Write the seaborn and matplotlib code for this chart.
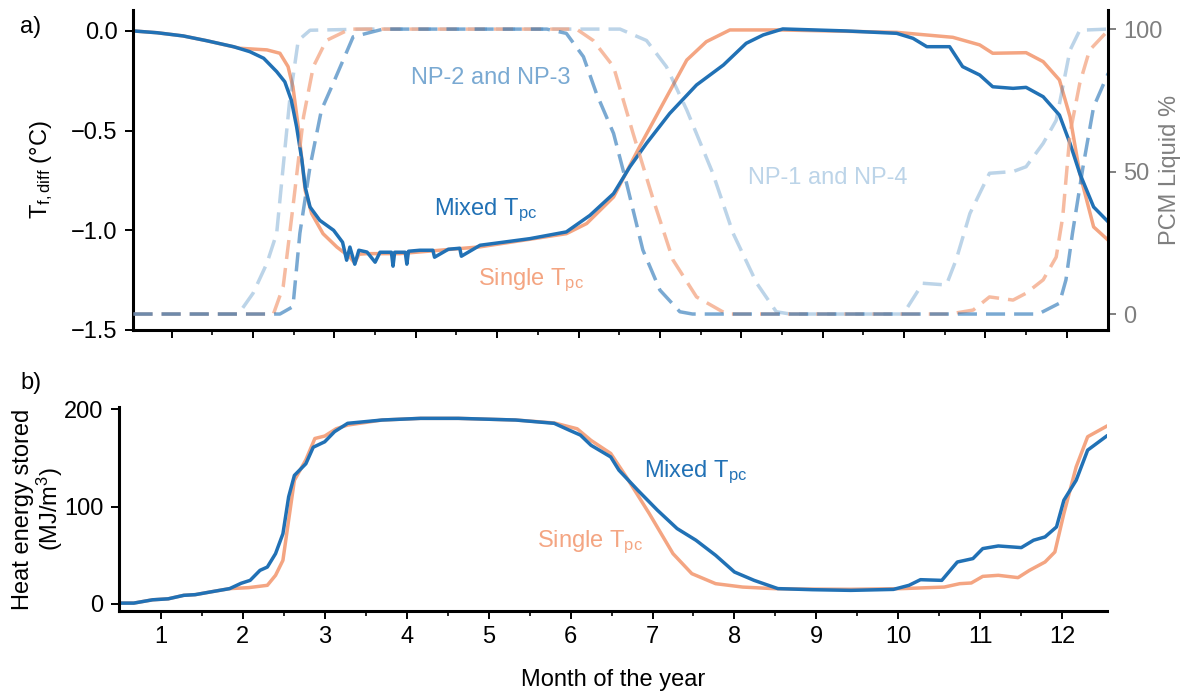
import numpy as np
import pandas as pd
import seaborn as sns
import matplotlib.pyplot as plt

# ---- data (x in months) ----
# a) temperature difference, mixed Tpc
mix_t_x = [0.53, 0.82, 1.14, 1.43, 1.76, 1.96, 2.13, 2.29, 2.39, 2.47, 2.535, 2.60, 2.64, 2.70,
           2.82, 2.99, 3.10, 3.15, 3.19, 3.25, 3.30, 3.40, 3.50, 3.56, 3.70, 3.72, 3.74, 3.87,
           3.89, 3.91, 4.05, 4.21, 4.23, 4.40, 4.54, 4.56, 4.79, 5.40, 5.85, 6.14, 6.43, 6.63,
           6.835, 7.12, 7.45, 7.78, 8.06, 8.27, 8.51, 9.29, 9.91, 10.11, 10.28, 10.56, 10.72,
           10.93, 11.09, 11.34, 11.50, 11.71, 11.91, 12.04, 12.16, 12.33, 12.51]
mix_t_y = [0.0, -0.009, -0.025, -0.049, -0.079, -0.104, -0.137, -0.204, -0.255, -0.347, -0.481,
           -0.648, -0.782, -0.883, -0.95, -1.0, -1.06, -1.15, -1.084, -1.17, -1.10, -1.109, -1.16,
           -1.11, -1.11, -1.18, -1.11, -1.11, -1.17, -1.105, -1.10, -1.10, -1.135, -1.095, -1.09,
           -1.13, -1.075, -1.042, -1.008, -0.925, -0.816, -0.682, -0.564, -0.414, -0.271, -0.171,
           -0.062, -0.02, 0.01, 0.0, -0.012, -0.037, -0.079, -0.079, -0.179, -0.221, -0.28,
           -0.288, -0.283, -0.33, -0.422, -0.564, -0.715, -0.883, -0.958]

# a) temperature difference, single Tpc
sgl_t_x = [0.53, 0.82, 1.14, 1.43, 1.84, 2.17, 2.33, 2.43, 2.49, 2.555, 2.60, 2.64, 2.72, 2.86,
           3.03, 3.19, 3.25, 3.30, 3.40, 3.80, 4.79, 5.85, 6.10, 6.43, 6.75, 7.04, 7.33, 7.57,
           7.86, 8.47, 9.91, 10.60, 10.93, 11.09, 11.50, 11.71, 11.91, 12.04, 12.16, 12.33, 12.51]
sgl_t_y = [0.0, -0.009, -0.025, -0.049, -0.087, -0.095, -0.112, -0.179, -0.28, -0.481, -0.648,
           -0.799, -0.916, -1.017, -1.084, -1.134, -1.165, -1.12, -1.117, -1.117, -1.083, -1.017,
           -0.966, -0.833, -0.581, -0.363, -0.146, -0.054, 0.005, 0.005, -0.007, -0.032, -0.07,
           -0.112, -0.109, -0.154, -0.246, -0.43, -0.715, -0.983, -1.05]

# a) PCM liquid fraction (%)
np14_x = [0.53, 1.82, 2.00, 2.17, 2.29, 2.37, 2.45, 2.555, 2.70, 3.40, 6.51, 6.835, 7.08, 7.33,
          7.65, 7.90, 8.19, 8.43, 8.60, 9.99, 10.23, 10.52, 10.64, 10.81, 11.05, 11.34, 11.50,
          11.71, 11.87, 12.04, 12.16, 12.51]
np14_y = [0, 0, 7.3, 17.8, 28.3, 51.7, 75, 96, 99.6, 100, 100, 96, 86.8, 71.6, 49.4, 28.3, 10.8,
          0.8, 0, 0, 10.8, 10.2, 19, 35.3, 49.4, 50, 51.7, 59.9, 68, 92.6, 99.6, 100]

sgl_liq_x = [0.53, 2.25, 2.37, 2.49, 2.62, 2.74, 2.90, 3.19, 5.975, 6.18, 6.43, 6.67, 6.92, 7.16,
             7.45, 7.82, 10.56, 10.85, 11.05, 11.34, 11.50, 11.71, 11.87, 11.95, 12.04, 12.16,
             12.28, 12.51]
sgl_liq_y = [0, 0, 9.6, 37.6, 69.2, 86.8, 96, 100, 100, 96, 86.8, 63.4, 40, 19, 6, 0, 0, 1.4, 6,
             4.9, 7.3, 12, 20, 34, 63.4, 81, 92.6, 99.6]

np23_x = [0.53, 2.33, 2.49, 2.575, 2.70, 2.84, 2.985, 3.23, 3.60, 5.61, 5.85, 6.06, 6.22, 6.43,
          6.59, 6.79, 7.00, 7.245, 7.40, 11.65, 11.91, 11.99, 12.07, 12.20, 12.33, 12.51]
np23_y = [0, 0, 2.6, 28.3, 51.7, 71.6, 81, 97.3, 100, 100, 98.5, 90.3, 77.4, 63.4, 45.9, 22.5,
          8.4, 0.8, 0, 0, 3.8, 12, 28.3, 51.7, 72.7, 84.5]

# b) heat energy stored (MJ/m3)
mix_e_x = [0.51, 0.67, 0.90, 1.09, 1.28, 1.42, 1.60, 1.84, 1.98, 2.09, 2.21, 2.30, 2.40, 2.49,
           2.56, 2.63, 2.77, 2.86, 3.00, 3.12, 3.28, 3.70, 4.17, 4.63, 5.33, 5.80, 5.98, 6.12,
           6.25, 6.49, 6.59, 6.82, 7.06, 7.30, 7.53, 7.77, 8.00, 8.24, 8.53, 8.95, 9.42, 9.94,
           10.13, 10.27, 10.53, 10.72, 10.91, 11.03, 11.22, 11.50, 11.65, 11.79, 11.93, 12.02,
           12.17, 12.31, 12.55]
mix_e_y = [0.6, 0.6, 4, 5, 8.6, 9.3, 12, 15.5, 21, 24, 34.3, 37.7, 51.5, 72, 110, 132, 144, 161,
           166.6, 177, 185.6, 189, 190.7, 190.7, 189, 185.6, 178.7, 173.5, 163, 151, 137.4, 116.8,
           96.2, 77.3, 65.3, 49.8, 32.6, 24, 15.5, 14.4, 13.7, 14.7, 18.9, 24.7, 24, 42.9, 46.4,
           56.7, 59.4, 57.7, 65.3, 68.7, 79, 106.5, 127, 158, 173]

sgl_e_x = [0.51, 0.67, 0.90, 1.09, 1.28, 1.42, 1.60, 1.84, 2.07, 2.30, 2.40, 2.49, 2.56, 2.63,
           2.77, 2.88, 3.00, 3.14, 3.28, 3.70, 4.17, 4.63, 5.33, 5.80, 6.08, 6.25, 6.49, 6.68,
           6.96, 7.25, 7.48, 7.77, 8.10, 8.48, 8.95, 9.42, 10.04, 10.56, 10.75, 10.89, 11.03,
           11.22, 11.46, 11.60, 11.79, 11.91, 12.02, 12.17, 12.31, 12.55]
sgl_e_y = [0.6, 0.6, 4, 5, 8.6, 9.3, 12, 15.5, 16.5, 18.9, 29.2, 44.6, 86, 127, 148, 170, 172.5,
           180, 183.8, 189, 190.7, 190.7, 189, 186, 180, 168, 154.6, 130.5, 92.8, 51.5, 30.9,
           20.6, 17.1, 15.5, 15, 14.8, 15.5, 17.1, 20.6, 21.3, 28.1, 29.2, 26.8, 34.3, 42.9, 53.2,
           92.8, 140.8, 171.8, 183]

months = list(range(1, 13))

blue = "#2171b5"
salmon = "#f4a582"
grey = "#7f7f7f"
fs = 17

sns.set_theme(style="ticks")
plt.rcParams["font.family"] = ["Liberation Sans", "DejaVu Sans"]
plt.rcParams.update({"font.size": fs, "axes.labelsize": fs, "xtick.labelsize": fs,
                     "ytick.labelsize": fs, "text.color": "black", "axes.labelcolor": "black",
                     "xtick.color": "black", "ytick.color": "black",
                     "axes.edgecolor": "black"})
plt.rcParams["mathtext.fontset"] = "custom"
plt.rcParams["mathtext.rm"] = "Liberation Sans"
plt.rcParams["mathtext.it"] = "Liberation Sans:italic"

fig = plt.figure(figsize=(11.89, 6.95), dpi=100)
ax1 = fig.add_axes([0.1119, 0.5252, 0.8202, 0.4604])
ax2 = ax1.twinx()
ax3 = fig.add_axes([0.1001, 0.1209, 0.8312, 0.2935])

lw = 2.5
dash = (5.5, 2.6)

# ---- panel a ----
sns.lineplot(x=mix_t_x, y=mix_t_y, ax=ax1, color=blue, lw=lw, sort=False, estimator=None)
sns.lineplot(x=sgl_t_x, y=sgl_t_y, ax=ax1, color=salmon, lw=lw, sort=False, estimator=None,
             zorder=1.9)
sns.lineplot(x=np14_x, y=np14_y, ax=ax2, color=blue, alpha=0.3, lw=lw, sort=False,
             estimator=None, linestyle=(0, dash))
sns.lineplot(x=sgl_liq_x, y=sgl_liq_y, ax=ax2, color=salmon, alpha=0.75, lw=lw, sort=False,
             estimator=None, linestyle=(0, dash))
sns.lineplot(x=np23_x, y=np23_y, ax=ax2, color=blue, alpha=0.6, lw=lw, sort=False,
             estimator=None, linestyle=(0, dash))

ax1.set_xlim(0.525, 12.51)
ax1.set_ylim(-1.5, 0.105)
ax2.set_ylim(-5.6, 106.7)
ax1.set_yticks([0.0, -0.5, -1.0, -1.5])
ax1.set_yticklabels(["0.0", "\u22120.5", "\u22121.0", "\u22121.5"])
ax2.set_yticks([0, 50, 100])
ax1.set_xticks(months)
ax1.set_xticks(np.arange(1.5, 12, 1.0), minor=True)
ax1.tick_params(axis="x", labelbottom=False)
ax1.set_ylabel("T$_{\\mathrm{f,diff}}$ (°C)", fontsize=fs)
ax1.yaxis.set_label_coords(-0.08, 0.5)
ax2.set_ylabel("PCM Liquid %", color=grey, fontsize=fs)
ax2.yaxis.set_label_coords(1.052, 0.5)
ax2.tick_params(axis="y", colors=grey, labelcolor=grey)

ax1.text(4.92, -0.236, "NP-2 and NP-3", color=blue, alpha=0.6, ha="center", va="center")
ax1.text(9.06, -0.739, "NP-1 and NP-4", color=blue, alpha=0.3, ha="center", va="center")
ax1.text(4.86, -0.9, "Mixed T$_{\\mathrm{pc}}$", color=blue, ha="center", va="center")
ax1.text(5.42, -1.25, "Single T$_{\\mathrm{pc}}$", color=salmon, ha="center", va="center")

ax1.spines["top"].set_visible(False)
ax2.spines["top"].set_visible(False)
ax2.spines["left"].set_visible(False)
ax2.spines["bottom"].set_visible(False)
for s in ["left", "bottom"]:
    ax1.spines[s].set_linewidth(2.2)
ax2.spines["right"].set_linewidth(2.2)

# ---- panel b ----
sns.lineplot(x=sgl_e_x, y=sgl_e_y, ax=ax3, color=salmon, lw=lw, sort=False, estimator=None)
sns.lineplot(x=mix_e_x, y=mix_e_y, ax=ax3, color=blue, lw=lw, sort=False, estimator=None)
ax3.set_xlim(0.49, 12.55)
ax3.set_ylim(-7.5, 202.4)
ax3.set_yticks([0, 100, 200])
ax3.set_xticks(months)
ax3.set_xticks(np.arange(1.5, 12, 1.0), minor=True)
ax3.set_xlabel("Month of the year", fontsize=fs, labelpad=15)
ax3.set_ylabel("Heat energy stored\n(MJ/m$^3$)", fontsize=fs, linespacing=1.0)
ax3.yaxis.set_label_coords(-0.055, 0.5)
ax3.text(7.53, 135, "Mixed T$_{\\mathrm{pc}}$", color=blue, ha="center", va="center")
ax3.text(6.24, 63, "Single T$_{\\mathrm{pc}}$", color=salmon, ha="center", va="center")
sns.despine(ax=ax3)
for s in ["left", "bottom"]:
    ax3.spines[s].set_linewidth(2.2)

for ax in [ax1, ax3]:
    ax.tick_params(which="major", length=6, width=1.4, labelsize=fs, colors="black", pad=5)
    ax.tick_params(which="minor", length=3.5, width=1.2, colors="black")
ax2.tick_params(which="major", length=6, width=1.4, labelsize=fs, pad=5)

fig.text(0.017, 0.961, "a)", fontsize=fs, va="center")
fig.text(0.017, 0.449, "b)", fontsize=fs, va="center")

fig.savefig("out.png", dpi=100)
